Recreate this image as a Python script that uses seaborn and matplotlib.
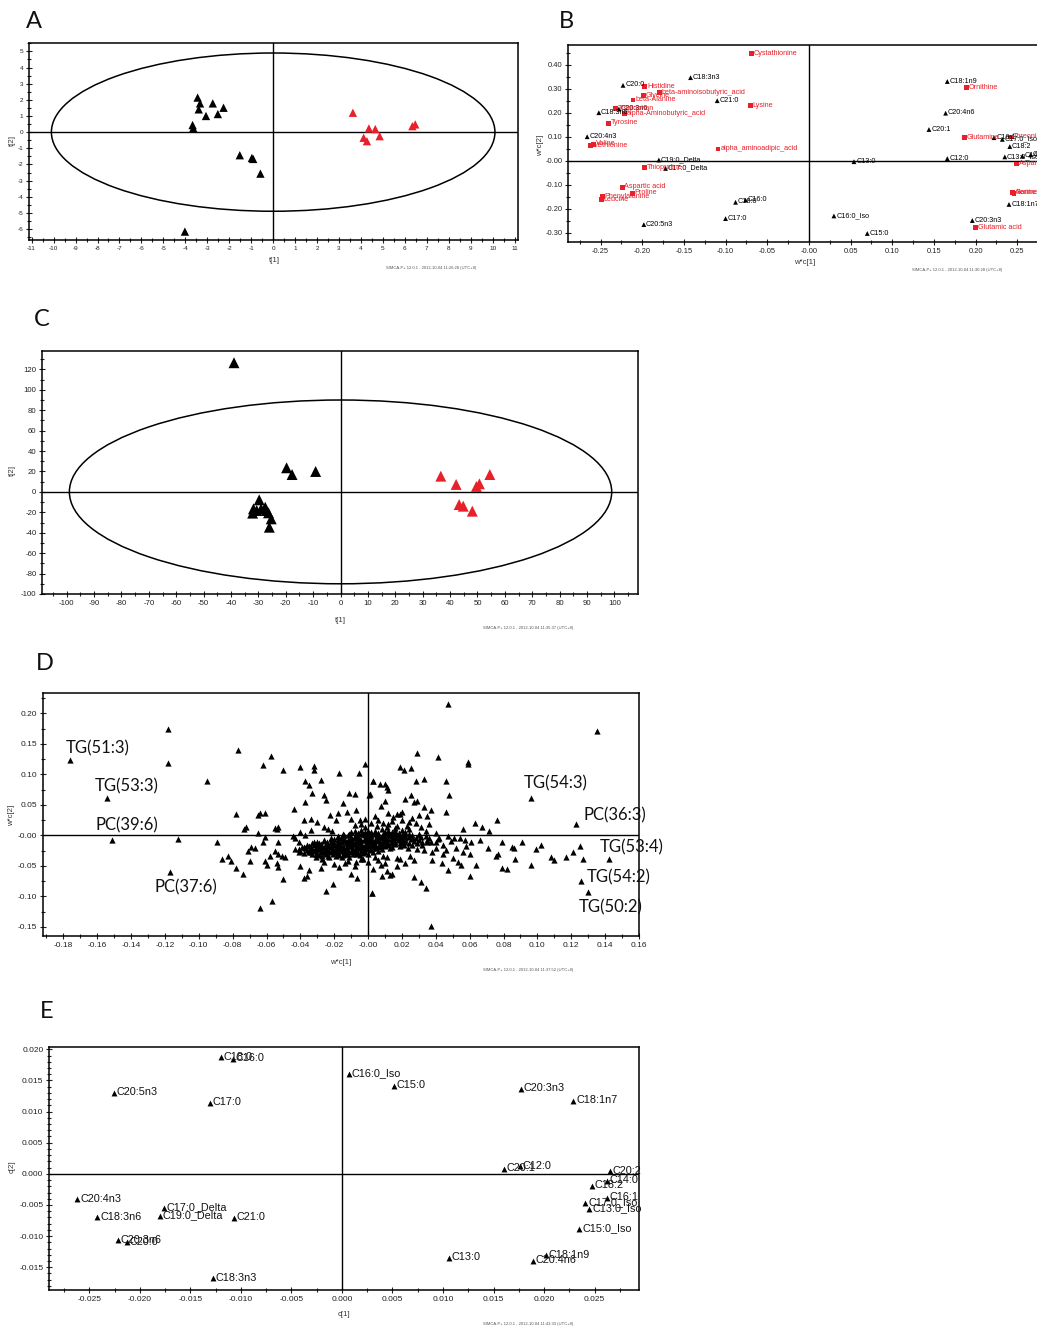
import matplotlib
matplotlib.use('Agg')
import matplotlib.pyplot as plt
from matplotlib.patches import Ellipse
from matplotlib.ticker import MultipleLocator, FuncFormatter
import pandas as pd
import seaborn as sns

# ---------------- data ----------------
# A: score plot, fatty acids
a_ctrl_t1 = [-3.44, -3.33, -3.39, -2.75, -3.06, -2.52, -2.26, -3.67, -3.64, -1.52, -0.97, -0.91, -0.58, -4.02]
a_ctrl_t2 = [2.14, 1.78, 1.41, 1.78, 1.00, 1.12, 1.51, 0.44, 0.25, -1.43, -1.60, -1.66, -2.57, -6.16]
a_case_t1 = [3.63, 4.36, 4.65, 4.12, 4.27, 4.85, 6.34, 6.47]
a_case_t2 = [1.20, 0.23, 0.19, -0.35, -0.56, -0.25, 0.37, 0.48]
a_ellipse = (10.1, 4.9)

# B: loadings, fatty acids (black) and amino acids (red)
b_fa_names = ['C18:3n3', 'C20:0', 'C21:0', 'C18:3n6', 'C20:3n6', 'C20:4n3', 'C19:0_Delta',
              'C17:0_Delta', 'C18:0', 'C16:0', 'C17:0', 'C20:5n3', 'C18:1n9', 'C20:4n6',
              'C20:1', 'C16:1', 'C17:0_Iso', 'C18:2', 'C13:0_Iso', 'C14:0', 'C20:2', 'C12:0',
              'C13:0', 'C18:1n7', 'C16:0_Iso', 'C20:3n3', 'C15:0']
b_fa_w1 = [-0.142, -0.223, -0.110, -0.252, -0.228, -0.266, -0.180, -0.172, -0.088, -0.076,
           -0.100, -0.198, 0.166, 0.164, 0.144, 0.222, 0.232, 0.241, 0.235, 0.256, 0.266,
           0.166, 0.054, 0.240, 0.030, 0.196, 0.070]
b_fa_w2 = [0.347, 0.315, 0.251, 0.201, 0.216, 0.101, 0.004, -0.031, -0.172, -0.163, -0.240,
           -0.265, 0.331, 0.199, 0.131, 0.097, 0.090, 0.060, 0.017, 0.020, 0.025, 0.010,
           -0.003, -0.181, -0.229, -0.248, -0.302]
b_aa_names = ['Cystathionine', 'Histidine', 'beta-aminoisobutyric_acid', 'Glycine', 'beta-Alanine',
              'Lysine', 'Tryptophan', 'alpha-Aminobutyric_acid', 'Tyrosine', 'Valine', 'Methionine',
              'alpha_aminoadipic_acid', 'Thioproline', 'Aspartic acid', 'Proline', 'Phenylalanine',
              'Leucine', 'Ornithine', 'Glutamine', 'Threonine', 'Asparagine', 'Alanine', 'Serine',
              'Glutamic acid']
b_aa_w1 = [-0.069, -0.197, -0.179, -0.198, -0.211, -0.070, -0.232, -0.221, -0.240, -0.258, -0.262,
           -0.109, -0.197, -0.224, -0.212, -0.248, -0.249, 0.189, 0.187, 0.242, 0.249, 0.244,
           0.246, 0.200]
b_aa_w2 = [0.446, 0.310, 0.285, 0.272, 0.254, 0.230, 0.218, 0.198, 0.157, 0.070, 0.063, 0.050,
           -0.028, -0.109, -0.135, -0.149, -0.162, 0.306, 0.097, 0.100, -0.013, -0.132, -0.135,
           -0.278]

# C: score plot, lipidomics
c_ctrl_t1 = [-38.9, -19.7, -17.7, -9.1, -29.7, -31.8, -32.1, -29.0, -27.5, -27.1, -26.3, -25.3, -26.0, -30.6]
c_ctrl_t2 = [126.5, 23.6, 17.0, 20.0, -7.8, -16.6, -20.8, -16.6, -15.0, -18.2, -20.5, -26.4, -34.6, -18.2]
c_case_t1 = [36.6, 42.2, 43.3, 44.8, 48.1, 49.6, 50.7, 54.5]
c_case_t2 = [15.4, 7.3, -12.4, -14.0, -18.9, 5.3, 7.9, 17.0]
c_ellipse = (99.0, 90.0)

# D: lipid loadings
d_lab_names = ['TG(51:3)', 'TG(53:3)', 'PC(39:6)', 'PC(37:6)', 'TG(54:3)', 'PC(36:3)',
               'TG(53:4)', 'TG(54:2)', 'TG(50:2)']
d_lab_w1 = [-0.176, -0.154, -0.151, -0.117, 0.096, 0.123, 0.142, 0.126, 0.130]
d_lab_w2 = [0.123, 0.062, -0.008, -0.060, 0.061, 0.018, -0.039, -0.075, -0.093]

d_outer = [
    (-0.118, 0.175), (-0.118, 0.118), (-0.112, -0.006), (-0.095, 0.089), (-0.089, -0.010),
    (-0.086, -0.038), (-0.083, -0.034), (-0.081, -0.042), (-0.078, -0.054), (-0.078, 0.035),
    (-0.077, 0.140), (-0.0575, 0.130), (-0.062, 0.116), (-0.050, 0.107), (-0.040, 0.112),
    (-0.032, 0.114), (-0.032, 0.108), (-0.017, 0.103), (-0.0055, 0.102), (-0.002, 0.117),
    (-0.037, 0.090), (-0.035, 0.082), (-0.028, 0.091), (-0.033, 0.069), (-0.026, 0.067),
    (-0.037, 0.055), (-0.025, 0.058), (-0.044, 0.044), (-0.064, 0.037), (-0.061, 0.036),
    (-0.065, 0.033), (-0.0735, 0.011), (-0.072, 0.014), (-0.055, 0.012), (-0.053, 0.013),
    (-0.054, 0.010), (-0.065, 0.004), (-0.061, -0.003), (-0.062, -0.010), (-0.053, -0.010),
    (-0.069, -0.019), (-0.067, -0.020), (-0.071, -0.026), (-0.074, -0.063), (-0.070, -0.042),
    (-0.061, -0.042), (-0.060, -0.049), (-0.058, -0.034), (-0.055, -0.026), (-0.053, -0.030),
    (-0.051, -0.033), (-0.049, -0.035), (-0.054, -0.046), (-0.053, -0.052), (-0.050, -0.072),
    (-0.064, -0.119), (-0.057, -0.107), (-0.040, -0.050), (-0.038, -0.070), (-0.036, -0.067),
    (-0.035, -0.056), (-0.028, -0.054), (-0.025, -0.092), (-0.021, -0.079), (-0.017, -0.052),
    (-0.012, -0.042), (-0.010, -0.064), (-0.0065, -0.070), (-0.007, -0.044), (0.0025, -0.094),
    (-0.0445, -0.001), (-0.043, -0.005), (-0.041, -0.011), (-0.040, 0.005), (-0.037, 0.001),
    (-0.034, 0.009), (-0.038, 0.025), (-0.034, 0.027), (-0.030, 0.022), (-0.026, 0.013),
    (-0.0235, 0.011), (-0.0215, 0.008), (-0.0225, 0.034), (-0.019, 0.025), (-0.018, 0.037),
    (-0.0147, 0.053), (-0.0127, 0.038), (-0.011, 0.070), (-0.008, 0.068), (-0.010, 0.027),
    (-0.007, 0.041), (-0.005, 0.025), (-0.002, 0.027), (0.0006, 0.066), (0.003, 0.089),
    (-0.043, -0.022), (-0.041, -0.027), (-0.038, -0.019), (-0.035, -0.025), (-0.032, -0.011),
    (-0.031, -0.030), (-0.029, -0.016), (-0.027, -0.038), (-0.0235, -0.033), (-0.0196, -0.027),
    (-0.0157, -0.036), (-0.0118, -0.030), (-0.004, -0.038), (-0.0137, -0.046),
    (0.047, 0.215), (0.029, 0.136), (0.041, 0.128), (0.059, 0.120), (0.059, 0.117),
    (0.019, 0.112), (0.021, 0.108), (0.0255, 0.110), (0.028, 0.089), (0.033, 0.093),
    (0.046, 0.090), (0.0027, 0.089), (0.007, 0.084), (0.010, 0.084), (0.011, 0.079),
    (0.012, 0.074), (0.001, 0.068), (0.048, 0.066), (0.010, 0.056), (0.0075, 0.048),
    (0.022, 0.059), (0.0255, 0.066), (0.027, 0.054), (0.029, 0.056), (0.033, 0.046),
    (0.037, 0.041), (0.035, 0.032), (0.046, 0.038), (0.012, 0.036), (0.015, 0.031),
    (0.017, 0.035), (0.019, 0.035), (0.020, 0.038), (0.028, 0.021), (0.031, 0.014),
    (0.036, 0.019), (0.006, 0.025), (0.009, 0.021), (0.012, 0.018), (0.020, 0.025),
    (0.023, 0.016), (0.024, 0.022), (0.063, 0.020), (0.067, 0.014), (0.0715, 0.008),
    (0.076, 0.026), (0.056, 0.010), (0.079, -0.011), (0.087, -0.039), (0.079, -0.054),
    (0.0755, -0.034), (0.0765, -0.031), (0.071, -0.020), (0.064, -0.049), (0.060, -0.067),
    (0.060, -0.030), (0.066, -0.007), (0.061, -0.011), (0.057, -0.008), (0.054, -0.005),
    (0.051, -0.004), (0.049, -0.009), (0.047, -0.001), (0.055, -0.049), (0.053, -0.043),
    (0.050, -0.037), (0.047, -0.056), (0.0435, -0.045), (0.0375, -0.040), (0.034, -0.086),
    (0.031, -0.077), (0.027, -0.068), (0.037, -0.148), (0.0024, -0.094), (0.008, -0.067),
    (0.011, -0.058), (0.013, -0.065), (0.014, -0.063), (0.0075, -0.049), (0.006, -0.041),
    (0.009, -0.033), (0.011, -0.036), (0.017, -0.037), (0.019, -0.039), (0.025, -0.034),
    (0.027, -0.040), (0.0235, -0.021), (0.029, -0.022), (0.032, -0.015), (0.035, -0.011),
    (0.040, -0.011), (0.042, -0.005), (0.135, 0.171), (0.091, -0.010), (0.096, -0.049),
    (0.099, -0.023), (0.102, -0.016), (0.108, -0.036), (0.110, -0.041), (0.117, -0.036),
    (0.121, -0.027), (0.125, -0.018), (0.127, -0.038), (0.085, -0.019), (0.086, -0.020),
    (0.082, -0.055), (0.044, -0.030), (0.040, -0.020), (0.046, -0.024), (0.052, -0.020),
    (0.056, -0.027), (0.058, -0.018), (0.038, -0.028), (0.033, -0.024), (0.044, -0.016),
    (-0.004, 0.018), (0.002, 0.020), (0.014, 0.024), (0.026, 0.028), (0.030, 0.034),
    (0.004, 0.032), (-0.008, 0.017), (0.016, 0.012), (0.024, 0.010), (0.034, 0.008),
    (0.040, 0.004), (-0.026, -0.044), (-0.020, -0.047), (-0.008, -0.050), (0.000, -0.043),
    (0.003, -0.055), (0.017, -0.050), (0.022, -0.046), (-0.003, -0.038), (0.010, -0.045),
    (0.004, -0.036),
]
# dense core round the origin
d_core = [
    (-0.031, -0.035), (-0.027, -0.033), (-0.023, -0.036), (-0.019, -0.034), (-0.015, -0.032),
    (-0.011, -0.035), (-0.007, -0.031),
    (-0.038, -0.029), (-0.034, -0.027), (-0.030, -0.030), (-0.026, -0.028), (-0.022, -0.027),
    (-0.018, -0.029), (-0.014, -0.028), (-0.010, -0.026), (-0.006, -0.029), (-0.002, -0.027),
    (0.003, -0.028),
    (-0.041, -0.022), (-0.037, -0.021), (-0.033, -0.023), (-0.029, -0.022), (-0.025, -0.021),
    (-0.021, -0.023), (-0.017, -0.022), (-0.013, -0.020), (-0.009, -0.022), (-0.005, -0.021),
    (-0.001, -0.023), (0.004, -0.021), (0.008, -0.022), (0.013, -0.020),
    (-0.036, -0.016), (-0.032, -0.015), (-0.028, -0.017), (-0.024, -0.016), (-0.020, -0.015),
    (-0.016, -0.017), (-0.012, -0.016), (-0.008, -0.014), (-0.004, -0.016), (0.000, -0.015),
    (0.004, -0.017), (0.008, -0.015), (0.012, -0.016), (0.016, -0.014), (0.021, -0.016),
    (0.026, -0.015),
    (-0.030, -0.010), (-0.026, -0.009), (-0.022, -0.011), (-0.018, -0.010), (-0.014, -0.009),
    (-0.010, -0.011), (-0.006, -0.010), (-0.002, -0.008), (0.002, -0.010), (0.006, -0.009),
    (0.010, -0.011), (0.014, -0.010), (0.018, -0.008), (0.022, -0.010), (0.027, -0.009),
    (0.032, -0.011), (0.037, -0.010),
    (-0.022, -0.004), (-0.018, -0.003), (-0.014, -0.005), (-0.010, -0.004), (-0.006, -0.003),
    (-0.002, -0.005), (0.002, -0.004), (0.006, -0.003), (0.010, -0.005), (0.014, -0.004),
    (0.018, -0.002), (0.022, -0.004), (0.026, -0.005), (0.031, -0.003), (0.036, -0.004),
    (0.041, -0.006),
    (-0.015, 0.002), (-0.011, 0.003), (-0.007, 0.001), (-0.003, 0.002), (0.001, 0.003),
    (0.005, 0.001), (0.009, 0.002), (0.013, 0.003), (0.017, 0.001), (0.021, 0.002),
    (0.026, 0.001), (0.030, 0.003),
    (-0.008, 0.008), (-0.004, 0.009), (0.000, 0.007), (0.004, 0.008), (0.008, 0.010),
    (0.012, 0.008), (0.016, 0.007), (0.020, 0.009),
    (-0.002, 0.014), (0.005, 0.015), (0.011, 0.013), (0.017, 0.015),
]
# points sitting between the rows of the core
d_core_fill = [
    (-0.033, -0.031), (-0.029, -0.032), (-0.025, -0.030), (-0.021, -0.031), (-0.017, -0.032),
    (-0.013, -0.030), (-0.009, -0.031), (-0.005, -0.032), (0.000, -0.030),
    (-0.040, -0.025), (-0.036, -0.024), (-0.032, -0.026), (-0.028, -0.025), (-0.024, -0.024),
    (-0.020, -0.026), (-0.016, -0.025), (-0.012, -0.024), (-0.008, -0.025), (-0.004, -0.026),
    (0.001, -0.024), (0.006, -0.025),
    (-0.039, -0.019), (-0.035, -0.018), (-0.031, -0.020), (-0.027, -0.019), (-0.023, -0.018),
    (-0.019, -0.020), (-0.015, -0.019), (-0.011, -0.018), (-0.007, -0.019), (-0.003, -0.020),
    (0.002, -0.018), (0.006, -0.019), (0.010, -0.018), (0.014, -0.019), (0.019, -0.018),
    (-0.033, -0.013), (-0.029, -0.012), (-0.025, -0.014), (-0.021, -0.013), (-0.017, -0.012),
    (-0.013, -0.013), (-0.009, -0.014), (-0.005, -0.012), (-0.001, -0.013), (0.003, -0.012),
    (0.007, -0.013), (0.011, -0.014), (0.015, -0.012), (0.019, -0.013), (0.024, -0.012),
    (0.029, -0.013),
    (-0.026, -0.007), (-0.022, -0.006), (-0.018, -0.008), (-0.014, -0.007), (-0.010, -0.006),
    (-0.006, -0.007), (-0.002, -0.006), (0.002, -0.007), (0.006, -0.006), (0.010, -0.008),
    (0.014, -0.007), (0.018, -0.005), (0.022, -0.007), (0.026, -0.006), (0.030, -0.008),
    (0.035, -0.007),
    (-0.018, -0.001), (-0.014, 0.000), (-0.010, -0.002), (-0.006, -0.001), (-0.002, 0.000),
    (0.002, -0.001), (0.006, 0.000), (0.010, -0.002), (0.014, -0.001), (0.018, 0.000),
    (0.022, -0.001), (0.026, -0.002), (0.030, 0.000), (0.034, -0.001),
    (-0.010, 0.005), (-0.006, 0.004), (-0.002, 0.006), (0.002, 0.005), (0.006, 0.004),
    (0.010, 0.006), (0.014, 0.005), (0.018, 0.004), (0.022, 0.006),
]
# the darkest middle of the core
d_core_mid = [
    (-0.035, -0.028), (-0.031, -0.024), (-0.027, -0.027), (-0.023, -0.025), (-0.019, -0.028),
    (-0.015, -0.023), (-0.011, -0.027), (-0.007, -0.024), (-0.003, -0.029),
    (-0.034, -0.020), (-0.030, -0.017), (-0.026, -0.020), (-0.022, -0.019), (-0.018, -0.017),
    (-0.014, -0.021), (-0.010, -0.018), (-0.006, -0.020), (-0.002, -0.017), (0.003, -0.020),
    (0.007, -0.017),
    (-0.028, -0.014), (-0.024, -0.011), (-0.020, -0.013), (-0.016, -0.010), (-0.012, -0.012),
    (-0.008, -0.010), (-0.004, -0.013), (0.000, -0.011), (0.004, -0.014), (0.008, -0.011),
    (0.012, -0.013), (0.016, -0.011), (0.020, -0.012),
    (-0.020, -0.006), (-0.016, -0.004), (-0.012, -0.007), (-0.008, -0.005), (-0.004, -0.008),
    (0.000, -0.005), (0.004, -0.007), (0.008, -0.004), (0.012, -0.006), (0.016, -0.004),
    (0.020, -0.006), (0.024, -0.003), (0.028, -0.005),
    (-0.012, 0.001), (-0.008, -0.001), (-0.004, 0.003), (0.000, 0.000), (0.004, 0.002),
    (0.008, -0.001), (0.012, 0.001), (0.016, 0.003), (0.020, 0.000), (0.024, 0.002),
]

# E: fatty acid loadings
e_names = ['C20:5n3', 'C18:0', 'C16:0', 'C17:0', 'C20:4n3', 'C17:0_Delta', 'C18:3n6',
           'C19:0_Delta', 'C21:0', 'C20:3n6', 'C20:0', 'C18:3n3', 'C16:0_Iso', 'C15:0',
           'C20:3n3', 'C18:1n7', 'C20:1', 'C12:0', 'C20:2', 'C14:0', 'C18:2', 'C16:1',
           'C17:0_Iso', 'C13:0_Iso', 'C15:0_Iso', 'C13:0', 'C18:1n9', 'C20:4n6']
e_c1 = [-0.0226, -0.0120, -0.0108, -0.0131, -0.0262, -0.0176, -0.0242, -0.0180, -0.0107,
        -0.0222, -0.0213, -0.0128, 0.0007, 0.0051, 0.0177, 0.0229, 0.0160, 0.0176, 0.0265,
        0.0262, 0.0247, 0.0262, 0.0241, 0.0245, 0.0235, 0.0106, 0.0202, 0.0189]
e_c2 = [0.0130, 0.0187, 0.0185, 0.0114, -0.0041, -0.0055, -0.0070, -0.0068, -0.0071,
        -0.0107, -0.0110, -0.0168, 0.0160, 0.0141, 0.0137, 0.0117, 0.0008, 0.0012, 0.0004,
        -0.0012, -0.0019, -0.0039, -0.0046, -0.0056, -0.0089, -0.0135, -0.0131, -0.0140]

footers = {
    'A': 'SIMCA-P+ 12.0.1 - 2012-10-04 11:26:28 (UTC+8)',
    'B': 'SIMCA-P+ 12.0.1 - 2012-10-04 11:30:28 (UTC+8)',
    'C': 'SIMCA-P+ 12.0.1 - 2012-10-04 11:35:37 (UTC+8)',
    'D': 'SIMCA-P+ 12.0.1 - 2012-10-04 11:37:52 (UTC+8)',
    'E': 'SIMCA-P+ 12.0.1 - 2012-10-04 11:43:33 (UTC+8)',
}

RED = '#e8202a'

sns.set_theme(style='white')
plt.rcParams['font.family'] = ['Liberation Sans', 'DejaVu Sans']

W, H = 1037, 1327
fig = plt.figure(figsize=(W / 100, H / 100), dpi=100)


def place(l, t, r, b):
    return fig.add_axes([l / W, 1 - b / H, (r - l) / W, (b - t) / H])


def fmt_int(v, _):
    return '0' if abs(v) < 1e-9 else f'{v:.0f}'


def fmt_2(v, _):
    return '-0.00' if abs(v) < 1e-9 else f'{v:.2f}'


def fmt_3(v, _):
    return '0.000' if abs(v) < 1e-12 else f'{v:.3f}'


def dress(ax, xlim, ylim, xstep, xminor, ystep, yminor, fmt, size):
    ax.set_xlim(xlim)
    ax.set_ylim(ylim)
    ax.xaxis.set_major_locator(MultipleLocator(xstep))
    ax.xaxis.set_minor_locator(MultipleLocator(xminor))
    ax.yaxis.set_major_locator(MultipleLocator(ystep))
    ax.yaxis.set_minor_locator(MultipleLocator(yminor))
    ax.xaxis.set_major_formatter(FuncFormatter(fmt))
    ax.yaxis.set_major_formatter(FuncFormatter(fmt))
    ax.tick_params(which='both', direction='inout', width=0.8, labelsize=size,
                   colors='#222222', bottom=True, left=True, pad=2)
    ax.tick_params(which='major', length=4)
    ax.tick_params(which='minor', length=3)
    for sp in ax.spines.values():
        sp.set_linewidth(1.1)
        sp.set_color('black')
    ax.axhline(0, color='black', lw=1.0, zorder=1)
    ax.axvline(0, color='black', lw=1.0, zorder=1)
    ax.set_xlabel('')
    ax.set_ylabel('')
    ax.grid(False)


def ftext(x, y, s, **kw):
    fig.text(x / W, 1 - y / H, s, **kw)


def score_frame(t1a, t2a, t1b, t2b):
    return pd.DataFrame({
        't1': t1a + t1b,
        't2': t2a + t2b,
        'group': ['ctrl'] * len(t1a) + ['case'] * len(t1b),
    })


# ---------------- A ----------------
ax = place(29, 43, 518, 240)
df_a = score_frame(a_ctrl_t1, a_ctrl_t2, a_case_t1, a_case_t2)
ax.add_patch(Ellipse((0, 0), 2 * a_ellipse[0], 2 * a_ellipse[1], fill=False, ec='black', lw=1.1))
sns.scatterplot(data=df_a, x='t1', y='t2', hue='group', palette={'ctrl': 'black', 'case': RED},
                marker='^', s=36, linewidth=0, legend=False, ax=ax, zorder=3)
dress(ax, (-11.12, 11.15), (-6.68, 5.52), 1, 0.5, 1, 0.5, fmt_int, 4.6)

# ---------------- B ----------------
ax = place(568, 45, 1059, 242)
df_b = pd.DataFrame({
    'w1': b_fa_w1 + b_aa_w1,
    'w2': b_fa_w2 + b_aa_w2,
    'name': b_fa_names + b_aa_names,
    'kind': ['fa'] * len(b_fa_names) + ['aa'] * len(b_aa_names),
})
sns.scatterplot(data=df_b, x='w1', y='w2', hue='kind', style='kind',
                palette={'fa': 'black', 'aa': RED}, markers={'fa': '^', 'aa': 's'},
                s=12, linewidth=0, legend=False, ax=ax, zorder=3)
for _, r in df_b.iterrows():
    ax.annotate(r['name'], (r['w1'], r['w2']), xytext=(1.6, 0.3), textcoords='offset points',
                ha='left', va='center', fontsize=5.2,
                color='black' if r['kind'] == 'fa' else RED)
dress(ax, (-0.289, 0.300), (-0.3375, 0.483), 0.05, 0.025, 0.1, 0.05, fmt_2, 5.4)

# ---------------- C ----------------
ax = place(42, 351, 638, 594)
df_c = score_frame(c_ctrl_t1, c_ctrl_t2, c_case_t1, c_case_t2)
ax.add_patch(Ellipse((0, 0), 2 * c_ellipse[0], 2 * c_ellipse[1], fill=False, ec='black', lw=1.1))
sns.scatterplot(data=df_c, x='t1', y='t2', hue='group', palette={'ctrl': 'black', 'case': RED},
                marker='^', s=62, linewidth=0, legend=False, ax=ax, zorder=3)
dress(ax, (-109, 108.6), (-100, 138), 10, 5, 20, 10, fmt_int, 5.6)

# ---------------- D ----------------
ax = place(43, 693, 639, 936)
pts = d_outer + d_core + d_core_fill + d_core_mid
df_d = pd.DataFrame({
    'w1': [p[0] for p in pts] + d_lab_w1,
    'w2': [p[1] for p in pts] + d_lab_w2,
})
sns.scatterplot(data=df_d, x='w1', y='w2', color='black', marker='^', s=20,
                linewidth=0, legend=False, ax=ax, zorder=3)
d_offsets = {'TG(51:3)': (-3, 9), 'TG(53:3)': (-9.4, 8), 'PC(39:6)': (-12, 11),
             'PC(37:6)': (-11.5, -11), 'TG(54:3)': (-5, 11), 'PC(36:3)': (5, 6.5),
             'TG(53:4)': (-6.5, 8.6), 'TG(54:2)': (3.6, 3), 'TG(50:2)': (-7, -11)}
for name, x, y in zip(d_lab_names, d_lab_w1, d_lab_w2):
    ax.annotate(name, (x, y), xytext=d_offsets[name], textcoords='offset points',
                ha='left', va='center', fontsize=12, family=['Lato', 'DejaVu Sans'],
                color='#111111', annotation_clip=False)
dress(ax, (-0.192, 0.160), (-0.165, 0.2336), 0.02, 0.01, 0.05, 0.025, fmt_2, 6.0)

# ---------------- E ----------------
ax = place(49, 1047, 639, 1290)
df_e = pd.DataFrame({'c1': e_c1, 'c2': e_c2, 'name': e_names})
sns.scatterplot(data=df_e, x='c1', y='c2', color='black', marker='^', s=18,
                linewidth=0, legend=False, ax=ax, zorder=3)
for _, r in df_e.iterrows():
    ax.annotate(r['name'], (r['c1'], r['c2']), xytext=(2, 0.6), textcoords='offset points',
                ha='left', va='center', fontsize=7.8, color='#111111')
dress(ax, (-0.029, 0.0294), (-0.01865, 0.02037), 0.005, 0.0025, 0.005, 0.001, fmt_3, 6.0)

# ---------------- texts ----------------
letter_kw = dict(fontsize=17, family=['Lato', 'DejaVu Sans'], va='center', ha='left', color='#111111')
ftext(26, 21, 'A', **letter_kw)
ftext(559, 21, 'B', **letter_kw)
ftext(34, 320, 'C', **letter_kw)
ftext(36, 664, 'D', **letter_kw)
ftext(40, 1011, 'E', **letter_kw)

lab_kw = dict(fontsize=5.6, color='#333333', ha='center', va='center')
ftext(274, 261, 't[1]', **lab_kw)
ftext(12, 141, 't[2]', rotation=90, **lab_kw)
ftext(805, 263, 'w*c[1]', **lab_kw)
ftext(541, 145, 'w*c[2]', rotation=90, **lab_kw)
ftext(340, 620, 't[1]', **lab_kw)
ftext(12, 470, 't[2]', rotation=90, **lab_kw)
ftext(341, 962, 'w*c[1]', **lab_kw)
ftext(12, 815, 'w*c[2]', rotation=90, **lab_kw)
ftext(344, 1315, 'c[1]', **lab_kw)
ftext(12, 1167, 'c[2]', rotation=90, **lab_kw)

foot_kw = dict(fontsize=3.0, color='#555555', ha='center', va='center')
ftext(431, 268, footers['A'], **foot_kw)
ftext(957, 270, footers['B'], **foot_kw)
ftext(528, 628, footers['C'], **foot_kw)
ftext(528, 970, footers['D'], **foot_kw)
ftext(528, 1324, footers['E'], **foot_kw)

fig.savefig('out.png', dpi=100, facecolor='white')
